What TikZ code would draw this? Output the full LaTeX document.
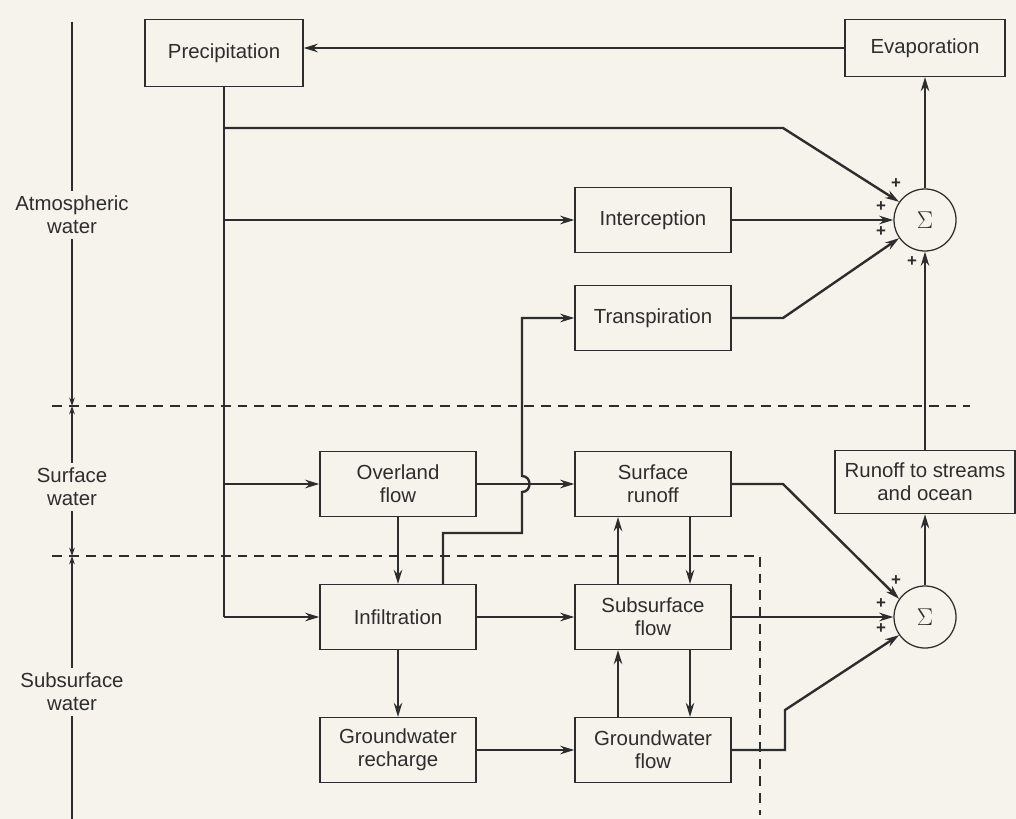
\documentclass[tikz,border=0pt]{standalone}
\usepackage{fontspec}
\setmainfont{Liberation Sans}
\usetikzlibrary{arrows.meta, positioning, calc, shapes}
\definecolor{inkgray}{RGB}{45, 45, 45}
\definecolor{paper}{RGB}{245, 243, 236}

\begin{document}
\begin{tikzpicture}[x=0.025cm, y=-0.025cm,
  box/.style={draw=inkgray, line width=0.9pt, minimum width=3.9cm, minimum height=1.62cm,
    align=center, font=\fontsize{14.5}{16.5}\selectfont, text=inkgray},
  sumnode/.style={circle, draw=inkgray, line width=0.9pt, minimum size=1.55cm, font=\LARGE, text=inkgray},
  flow/.style={draw=inkgray, line width=1.7pt, -{Stealth[length=10pt,width=6pt]}},
  link/.style={draw=inkgray, line width=1.7pt},
  zone/.style={align=center, font=\fontsize{14.5}{16.5}\selectfont, text=inkgray},
  ruler/.style={draw=inkgray, line width=0.8pt},
  rulertip/.style={ruler, -{Stealth[length=6pt,width=4pt]}},
  border/.style={draw=inkgray, line width=0.9pt, dash pattern=on 7pt off 5pt},
  signlbl/.style={font=\large\bfseries, text=inkgray, inner sep=0pt}]

  \fill[paper] (0,0) rectangle (1016,819);
  \useasboundingbox (0,0) rectangle (1016,819);

  % boxes
  \node[box, minimum width=3.95cm, minimum height=1.67cm] (precip) at (224,53) {Precipitation};
  \node[box, minimum width=4cm, minimum height=1.42cm] (evap) at (925,48) {Evaporation};
  \node[sumnode] (sigT) at (925,220) {$\Sigma$};
  \node[box] (icpt) at (653,220) {Interception};
  \node[box] (transp) at (653,318) {Transpiration};
  \node[box] (overland) at (398,484) {Overland\\flow};
  \node[box] (srunoff) at (653,484) {Surface\\runoff};
  \node[box, minimum width=4.5cm, minimum height=1.58cm] (runoff) at (925,482) {Runoff to streams\\and ocean};
  \node[box] (infil) at (398,617) {Infiltration};
  \node[box] (subsurf) at (653,617) {Subsurface\\flow};
  \node[sumnode] (sigB) at (925,617) {$\Sigma$};
  \node[box] (gwrech) at (398,750) {Groundwater\\recharge};
  \node[box] (gwflow) at (653,750) {Groundwater\\flow};

  % zones on the left
  \node[zone] (atm) at (72,215) {Atmospheric\\water};
  \node[zone] (surf) at (72,487) {Surface\\water};
  \node[zone] (subs) at (72,692) {Subsurface\\water};
  \coordinate (ztop) at (72,22);
  \coordinate (zb1) at (72,406);
  \coordinate (zb2) at (72,556);
  \coordinate (zbot) at (72,819);
  \draw[ruler] (ztop) -- (atm.north);
  \draw[rulertip] (atm.south) -- (zb1);
  \draw[rulertip] (surf.north) -- (zb1);
  \draw[rulertip] (surf.south) -- (zb2);
  \draw[rulertip] (subs.north) -- (zb2);
  \draw[ruler] (subs.south) -- (zbot);

  % zone borders
  \draw[border] (52,406) -- (970,406);
  \draw[border] (52,556) -- (760,556) -- (760,815);

  % atmosphere
  \coordinate (b1) at (224,128);
  \coordinate (k1) at (783,128);
  \coordinate (k2) at (783,318);
  \draw[flow] (evap.west) -- (evap.west -| precip.east);
  \draw[link] (precip.south) -- (precip.south |- infil.west);
  \draw[flow] (b1) -- (k1) -- (sigT.145);
  \draw[flow] (precip.south |- icpt.west) -- (icpt.west);
  \draw[flow] (icpt.east) -- (sigT.west);
  \draw[flow] (transp.east) -- (k2) -- (sigT.215);
  \draw[flow] (sigT.north) -- (evap.south);
  \draw[flow] (runoff.north) -- (sigT.south);

  % surface and subsurface
  \draw[flow] (precip.south |- overland.west) -- (overland.west);
  \draw[flow] (precip.south |- infil.west) -- (infil.west);
  \draw[flow] (overland.east) -- (srunoff.west);
  \draw[flow] (overland.south) -- (infil.north);
  \draw[flow] (infil.east) -- (subsurf.west);
  \draw[flow] (infil.south) -- (gwrech.north);
  \draw[flow] (gwrech.east) -- (gwflow.west);
  \coordinate (j0) at ($(infil.north)+(45,0)$);
  \coordinate (j1) at (522,533);
  \draw[flow] (j0) |- (j1) -- ++(0,-41) .. controls +(10,0) and +(10,0) .. ++(0,-16)
    -- (j1 |- transp.west) -- (transp.west);
  \draw[flow] ($(subsurf.north)+(-35,0)$) -- ($(srunoff.south)+(-35,0)$);
  \draw[flow] ($(srunoff.south)+(37,0)$) -- ($(subsurf.north)+(37,0)$);
  \draw[flow] ($(gwflow.north)+(-35,0)$) -- ($(subsurf.south)+(-35,0)$);
  \draw[flow] ($(subsurf.south)+(37,0)$) -- ($(gwflow.north)+(37,0)$);

  % runoff
  \coordinate (k3) at (783,484);
  \coordinate (k4) at (785,750);
  \coordinate (k5) at (785,710);
  \draw[flow] (srunoff.east) -- (k3) -- (sigB.145);
  \draw[flow] (subsurf.east) -- (sigB.west);
  \draw[flow] (gwflow.east) -- (k4) -- (k5) -- (sigB.215);
  \draw[flow] (sigB.north) -- (runoff.south);

  % signs
  \foreach \s in {sigT, sigB} {
    \node[signlbl] (\s-p1) at ($(\s)+(-29,-36)$) {+};
    \node[signlbl] (\s-p2) at ($(\s)+(-44,-13)$) {+};
    \node[signlbl] (\s-p3) at ($(\s)+(-44,12)$) {+};
  }
  \node[signlbl] (sigT-p4) at ($(sigT)+(-13,42)$) {+};
\end{tikzpicture}
\end{document}
